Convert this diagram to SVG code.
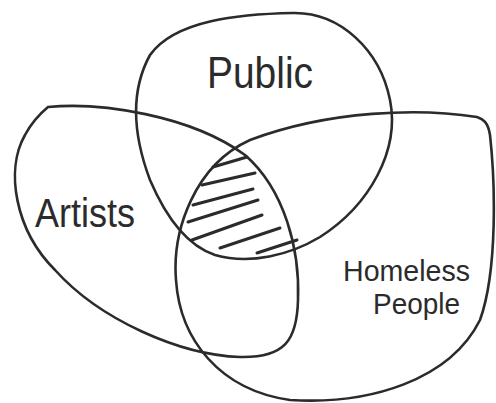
<svg xmlns="http://www.w3.org/2000/svg" width="496" height="403" viewBox="0 0 496 403">
<style>
.loop{fill:none;stroke:#2b2b2b;stroke-width:2.6;stroke-linecap:round;stroke-linejoin:round}
.hatch{fill:none;stroke:#2b2b2b;stroke-width:3;stroke-linecap:round}
.lbl{font-family:"Liberation Sans","DejaVu Sans",sans-serif;fill:#2b2b2b}
</style>
<rect width="496" height="403" fill="#ffffff"/>
<g id="public">
<path class="loop" d="M 293 13 C 340 12, 380 50, 390 100 C 400 150, 370 205, 320 237 C 290 255, 250 265, 215 255 C 185 245, 165 215, 150 180 C 135 140, 128 95, 150 55 C 175 20, 240 14, 293 13 Z"/>
<text class="lbl" x="207" y="88" font-size="44" textLength="106" lengthAdjust="spacingAndGlyphs">Public</text>
</g>
<g id="artists">
<path class="loop" d="M 48 107 C 100 102, 190 115, 245 155 C 285 190, 300 250, 298 300 C 297 340, 285 358, 240 357 C 180 355, 100 320, 55 270 C 15 230, 5 170, 25 135 C 33 120, 42 112, 48 107 Z"/>
<text class="lbl" x="35" y="227" font-size="40" textLength="100" lengthAdjust="spacingAndGlyphs">Artists</text>
</g>
<g id="homeless">
<path class="loop" d="M 477 117 C 420 108, 330 110, 250 140 C 195 165, 172 230, 176 280 C 180 340, 220 390, 290 400 C 370 405, 450 380, 480 320 C 498 270, 495 180, 490 135 C 488 122, 483 119, 477 117 Z"/>
<text class="lbl" x="343" y="281" font-size="30" textLength="127" lengthAdjust="spacingAndGlyphs">Homeless</text>
<text class="lbl" x="373" y="314" font-size="30" textLength="87" lengthAdjust="spacingAndGlyphs">People</text>
</g>
<g id="intersection">
<path class="hatch" d="M 213 167 L 247 157 M 202 185 L 255 173 M 193 205 L 253 189 M 188 222 L 258 200 M 192 240 L 262 215 M 220 248 L 280 228 M 257 253 L 297 240"/>
</g>
</svg>
